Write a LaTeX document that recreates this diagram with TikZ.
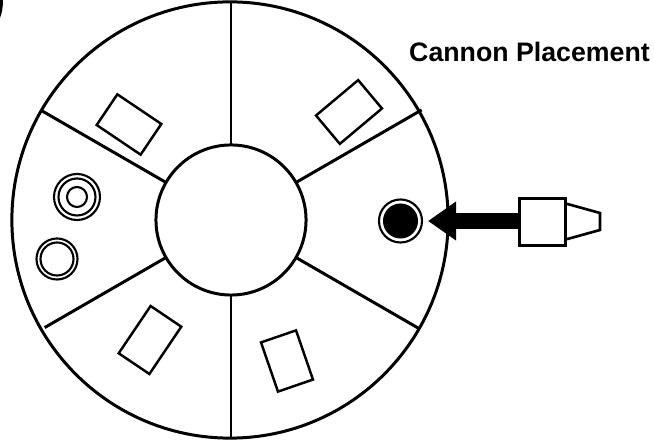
\documentclass[tikz,border=0pt]{standalone}
\usepackage{fontspec}
\setmainfont{Liberation Sans}
\usepackage{tikz}
\usetikzlibrary{arrows.meta,calc,positioning}
\tikzset{
  wheel/.style={line width=0.85pt, draw=black},
  slotbox/.style={draw=black, line width=0.7pt, minimum height=0.37cm, inner sep=0pt},
  ring/.style={circle, draw=black, inner sep=0pt, line width=0.6pt},
  every node/.style={font=\bfseries}
}
\begin{document}
\begin{tikzpicture}[x=0.01cm, y=-0.01cm]
  \useasboundingbox (0,0) rectangle (654,440);
  \def\Router{2.18cm}
  \def\Rinner{0.75cm}
  \coordinate (C) at (231,220);
  \draw[wheel] (230,220) circle (\Router);
  \draw[wheel] (C) circle (\Rinner);
  % spokes
  \foreach \a/\r in {90/2.18,30/2.2,-30/2.18,-90/2.17,-150/2.15,150/2.19} {
    \draw[wheel] ($(C)+(\a:\Rinner)$) -- ($(C)+(\a:\r cm)$);
  }
  % slots
  \node[slotbox, minimum width=0.53cm, rotate=-34] (slotA) at (129,124.5) {};
  \node[slotbox, minimum width=0.55cm, rotate=40] (slotB) at (349,112) {};
  \node[slotbox, minimum width=0.57cm, rotate=56] (slotC) at (150,340) {};
  \node[slotbox, minimum width=0.52cm, rotate=-71] (slotD) at (287,361) {};
  % shells
  \node[ring, minimum size=0.46cm] (shellA) at (77,197) {};
  \node[ring, minimum size=0.37cm] (shellAmid) at (shellA) {};
  \node[ring, minimum size=0.2cm] (shellAcore) at (shellA) {};
  \node[ring, minimum size=0.41cm] (shellB) at (57,259) {};
  \node[ring, minimum size=0.33cm] (shellBcore) at (shellB) {};
  \node[ring, minimum size=0.43cm] (shellC) at (400.5,221) {};
  \node[circle, fill=black, inner sep=0pt, minimum size=0.35cm] (shellCcore) at (shellC) {};
  % cannon
  \node[draw=black, line width=0.9pt, minimum width=0.46cm, minimum height=0.47cm, inner sep=0pt] (body) at (542.5,222) {};
  \coordinate (tip) at (428,221);
  \draw[line width=0.75pt] (body.north east) ++(0,7) -- (600,213) -- (600,230) -- ($(body.south east)+(0,-8)$);
  \draw[-{Triangle[length=0.28cm,width=0.37cm]}, line width=0.16cm] (body.west |- tip) -- (tip);
  \node[anchor=base, inner sep=0pt] (title) at (529.5,62) {\fontsize{7.6pt}{9pt}\selectfont Cannon Placement};
  \fill (0,0) -- (3,0) .. controls (3,7) and (2,13) .. (0,18) -- cycle;
\end{tikzpicture}
\end{document}
